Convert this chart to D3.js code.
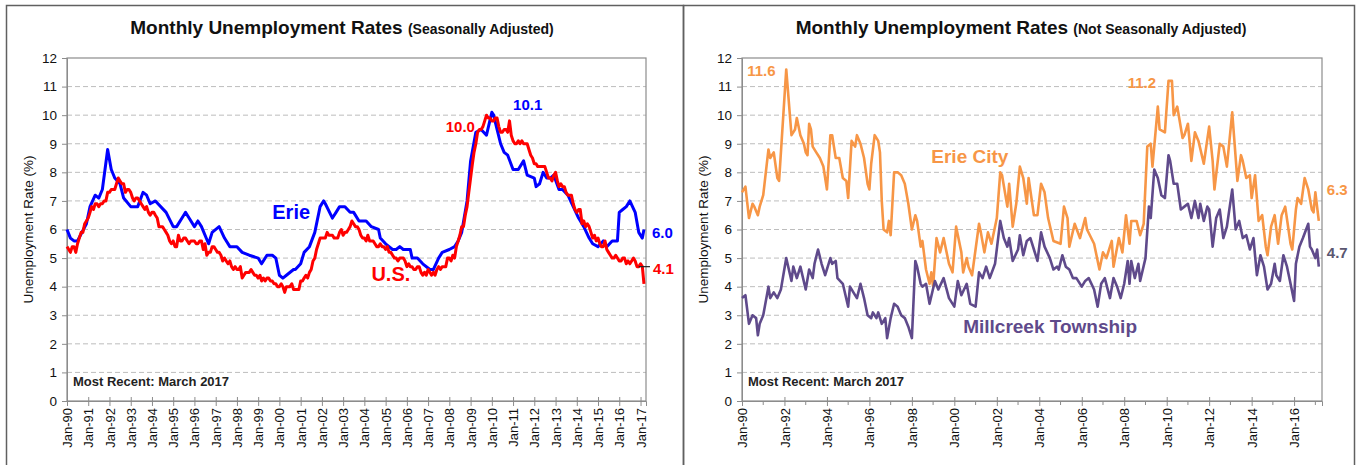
<!DOCTYPE html>
<html>
<head>
<meta charset="utf-8">
<script src="https://cdn.jsdelivr.net/npm/d3@7"></script>
<style>
    body { margin: 0; background: #fff; }
    text { font-family: "Liberation Sans", Arial, sans-serif; }
</style>
</head>
<body>
<svg id="chart" width="1359" height="465"></svg>
<script>

// U.S. rate, seasonally adjusted, one row per year (Jan..Dec), 2017 ends in March
var usRates = [
    [5.4,5.3,5.2,5.4,5.4,5.2,5.5,5.7,5.9,5.9,6.2,6.3],
    [6.4,6.6,6.8,6.7,6.9,6.9,6.8,6.9,6.9,7.0,7.0,7.3],
    [7.3,7.4,7.4,7.4,7.6,7.8,7.7,7.6,7.6,7.3,7.4,7.4],
    [7.3,7.1,7.0,7.1,7.1,7.0,6.9,6.8,6.7,6.8,6.6,6.5],
    [6.6,6.6,6.5,6.4,6.1,6.1,6.1,6.0,5.9,5.8,5.6,5.5],
    [5.6,5.4,5.4,5.8,5.6,5.6,5.7,5.7,5.6,5.5,5.6,5.6],
    [5.6,5.5,5.5,5.6,5.6,5.3,5.5,5.1,5.2,5.2,5.4,5.4],
    [5.3,5.2,5.2,5.1,4.9,5.0,4.9,4.8,4.9,4.7,4.6,4.7],
    [4.6,4.6,4.7,4.3,4.4,4.5,4.5,4.5,4.6,4.5,4.4,4.4],
    [4.3,4.4,4.2,4.3,4.2,4.3,4.3,4.2,4.2,4.1,4.1,4.0],
    [4.0,4.1,4.0,3.8,4.0,4.0,4.0,4.1,3.9,3.9,3.9,3.9],
    [4.2,4.2,4.3,4.4,4.3,4.5,4.6,4.9,5.0,5.3,5.5,5.7],
    [5.7,5.7,5.7,5.9,5.8,5.8,5.8,5.7,5.7,5.7,5.9,6.0],
    [5.8,5.9,5.9,6.0,6.1,6.3,6.2,6.1,6.1,6.0,5.8,5.7],
    [5.7,5.6,5.8,5.6,5.6,5.6,5.5,5.4,5.4,5.5,5.4,5.4],
    [5.3,5.4,5.2,5.2,5.1,5.0,5.0,4.9,5.0,5.0,5.0,4.9],
    [4.7,4.8,4.7,4.7,4.6,4.6,4.7,4.7,4.5,4.4,4.5,4.4],
    [4.6,4.5,4.4,4.5,4.4,4.6,4.7,4.6,4.7,4.7,4.7,5.0],
    [5.0,4.9,5.1,5.0,5.4,5.6,5.8,6.1,6.1,6.5,6.8,7.3],
    [7.8,8.3,8.7,9.0,9.4,9.5,9.5,9.6,9.8,10.0,9.9,9.9],
    [9.8,9.8,9.9,9.9,9.6,9.4,9.4,9.5,9.5,9.4,9.8,9.3],
    [9.1,9.0,9.0,9.1,9.0,9.1,9.0,9.0,9.0,8.8,8.6,8.5],
    [8.3,8.3,8.2,8.2,8.2,8.2,8.2,8.0,7.8,7.8,7.7,7.9],
    [8.0,7.7,7.5,7.6,7.5,7.5,7.3,7.2,7.2,7.2,6.9,6.7],
    [6.6,6.7,6.7,6.2,6.3,6.1,6.2,6.1,5.9,5.7,5.8,5.6],
    [5.7,5.5,5.4,5.4,5.6,5.3,5.2,5.1,5.0,5.0,5.1,5.0],
    [4.9,4.9,5.0,5.0,4.8,4.9,4.8,4.9,5.0,4.9,4.7,4.7],
    [4.8,4.7,4.1]
];

// Erie metro, seasonally adjusted (month, rate)
var erieSA = [
    ["1990-01",6.0],["1990-03",5.7],["1990-05",5.6],["1990-07",5.6],["1990-12",6.2],
    ["1991-02",6.8],["1991-05",7.2],["1991-07",7.1],["1991-09",7.4],["1991-12",8.8],
    ["1992-02",8.1],["1992-04",7.8],["1992-07",7.6],["1992-09",7.1],["1993-01",6.8],
    ["1993-05",6.8],["1993-08",7.3],["1993-10",7.2],["1993-12",6.9],["1994-03",7.0],
    ["1994-09",6.6],["1995-01",6.1],["1995-03",6.1],["1995-07",6.5],["1995-08",6.6],
    ["1995-10",6.4],["1996-01",6.1],["1996-03",6.3],["1996-05",6.1],["1996-09",5.5],
    ["1996-11",5.9],["1997-03",6.1],["1997-06",5.7],["1997-09",5.4],["1998-01",5.4],
    ["1998-04",5.2],["1998-08",5.1],["1999-01",5.0],["1999-03",4.8],["1999-06",5.1],
    ["1999-09",5.1],["1999-11",5.0],["2000-01",4.4],["2000-03",4.3],["2000-05",4.4],
    ["2000-09",4.6],["2000-10",4.6],["2001-01",4.8],["2001-03",5.2],["2001-06",5.4],
    ["2001-09",5.9],["2001-12",6.8],["2002-02",7.0],["2002-03",6.9],["2002-07",6.4],
    ["2002-09",6.6],["2002-11",6.8],["2003-02",6.8],["2003-05",6.6],["2003-07",6.6],
    ["2003-10",6.3],["2004-02",6.3],["2004-05",6.1],["2004-09",6.0],["2004-10",5.7],
    ["2005-01",5.5],["2005-03",5.4],["2005-05",5.3],["2005-07",5.3],["2005-09",5.4],
    ["2005-11",5.3],["2006-03",5.3],["2006-04",5.0],["2006-07",5.0],["2006-10",4.8],
    ["2007-02",4.6],["2007-04",4.6],["2007-07",5.0],["2007-09",5.2],["2008-01",5.3],
    ["2008-04",5.4],["2008-06",5.6],["2008-08",5.9],["2008-11",7.0],["2009-01",8.4],
    ["2009-04",9.4],["2009-07",9.5],["2009-10",9.3],["2010-01",10.1],["2010-02",10.0],
    ["2010-04",9.5],["2010-06",9.0],["2010-08",8.7],["2010-10",8.6],["2011-01",8.1],
    ["2011-04",8.1],["2011-07",8.4],["2011-09",7.9],["2012-01",7.8],["2012-02",7.5],
    ["2012-04",7.6],["2012-06",8.0],["2012-08",7.8],["2012-10",7.8],["2012-12",7.9],
    ["2013-03",7.4],["2013-05",7.4],["2013-08",7.2],["2013-11",6.8],["2014-02",6.4],
    ["2014-05",6.1],["2014-08",5.7],["2014-10",5.5],["2015-01",5.4],["2015-04",5.6],
    ["2015-06",5.4],["2015-09",5.6],["2015-12",5.6],["2016-01",6.6],["2016-03",6.7],
    ["2016-05",6.8],["2016-07",7.0],["2016-10",6.6],["2016-12",5.9],["2017-02",5.7],
    ["2017-03",6.0]
];

// Erie City, not seasonally adjusted
var erieCity = [
    ["1990-01",7.3],["1990-03",7.5],["1990-05",6.4],["1990-07",6.9],["1990-08",6.8],
    ["1990-10",6.5],["1990-11",6.8],["1991-01",7.2],["1991-04",8.8],["1991-05",8.5],
    ["1991-07",8.7],["1991-09",7.8],["1991-10",7.7],["1992-02",11.6],["1992-05",9.3],
    ["1992-07",9.5],["1992-08",9.9],["1992-10",9.3],["1992-12",9.0],["1993-01",8.7],
    ["1993-02",8.6],["1993-03",9.7],["1993-04",9.5],["1993-05",8.9],["1993-07",8.7],
    ["1993-09",8.5],["1993-11",8.2],["1994-01",7.4],["1994-03",9.3],["1994-04",9.3],
    ["1994-05",8.9],["1994-06",8.5],["1994-08",8.5],["1994-10",7.8],["1994-12",7.7],
    ["1995-01",7.1],["1995-03",9.1],["1995-04",9.0],["1995-05",8.9],["1995-06",9.3],
    ["1995-08",9.0],["1995-10",8.5],["1995-12",7.6],["1996-01",7.4],["1996-02",8.3],
    ["1996-04",9.3],["1996-06",9.1],["1996-07",8.7],["1996-08",7.0],["1996-09",6.0],
    ["1996-11",5.9],["1996-12",6.3],["1997-01",5.8],["1997-03",8.0],["1997-05",8.0],
    ["1997-07",7.9],["1997-09",7.6],["1997-11",6.9],["1998-01",6.0],["1998-03",6.5],
    ["1998-04",6.3],["1998-06",5.4],["1998-07",5.6],["1998-09",4.6],["1998-11",4.1],
    ["1998-12",4.5],["1999-01",4.0],["1999-03",5.7],["1999-05",5.2],["1999-07",5.7],
    ["1999-10",4.8],["1999-12",4.5],["2000-02",6.1],["2000-05",5.2],["2000-06",4.5],
    ["2000-08",5.0],["2000-09",4.7],["2000-11",4.4],["2001-03",6.2],["2001-04",5.9],
    ["2001-06",5.2],["2001-08",5.9],["2001-10",5.5],["2002-01",6.4],["2002-03",8.0],
    ["2002-04",7.9],["2002-07",6.8],["2002-08",7.6],["2002-10",6.1],["2002-12",6.9],
    ["2003-02",8.2],["2003-04",7.8],["2003-06",6.9],["2003-07",7.8],["2003-10",6.5],
    ["2003-12",6.5],["2004-02",7.6],["2004-04",7.3],["2004-06",6.4],["2004-09",5.6],
    ["2005-01",5.5],["2005-03",6.8],["2005-05",6.4],["2005-06",5.4],["2005-09",6.2],
    ["2005-12",5.7],["2006-03",6.4],["2006-04",6.0],["2006-08",5.5],["2006-11",4.6],
    ["2007-01",5.2],["2007-03",5.0],["2007-06",5.6],["2007-07",4.7],["2007-10",5.7],
    ["2007-12",5.2],["2008-02",6.5],["2008-04",5.5],["2008-05",6.3],["2008-08",6.3],
    ["2008-10",5.8],["2008-12",6.2],["2009-02",8.9],["2009-04",9.0],["2009-05",8.2],
    ["2009-08",10.3],["2009-09",9.5],["2009-12",9.4],["2010-02",11.2],["2010-04",11.2],
    ["2010-05",10.0],["2010-07",10.3],["2010-10",9.2],["2010-11",9.3],["2011-01",9.7],
    ["2011-03",8.4],["2011-05",9.4],["2011-07",9.1],["2011-10",8.3],["2012-01",9.6],
    ["2012-03",8.4],["2012-04",7.4],["2012-07",9.0],["2012-09",8.9],["2012-11",8.2],
    ["2013-02",10.1],["2013-05",7.7],["2013-07",8.6],["2013-08",8.4],["2013-10",7.8],
    ["2013-12",7.9],["2014-01",7.1],["2014-03",7.9],["2014-05",6.3],["2014-07",6.5],
    ["2014-09",5.4],["2014-10",5.1],["2014-12",6.1],["2015-02",6.5],["2015-04",5.5],
    ["2015-06",6.5],["2015-08",6.8],["2015-11",5.5],["2015-12",5.3],["2016-02",6.7],
    ["2016-03",7.1],["2016-05",6.9],["2016-07",7.8],["2016-09",7.4],["2016-11",6.7],
    ["2016-12",6.6],["2017-01",7.3],["2017-03",6.3]
];

// Millcreek Township, not seasonally adjusted
var millcreek = [
    ["1990-01",3.6],["1990-03",3.7],["1990-05",2.7],["1990-07",3.0],["1990-09",2.9],
    ["1990-10",2.3],["1990-11",2.7],["1991-01",3.0],["1991-04",4.0],["1991-05",3.6],
    ["1991-07",3.8],["1991-09",3.6],["1991-11",3.9],["1992-02",5.0],["1992-05",4.2],
    ["1992-06",4.7],["1992-08",4.3],["1992-10",4.7],["1993-01",3.9],["1993-03",4.6],
    ["1993-05",4.3],["1993-06",4.8],["1993-08",5.3],["1993-10",4.8],["1993-12",4.4],
    ["1994-03",5.0],["1994-04",4.8],["1994-06",4.9],["1994-07",4.3],["1994-10",4.1],
    ["1995-01",3.3],["1995-02",4.0],["1995-04",3.8],["1995-06",3.6],["1995-08",4.1],
    ["1995-10",3.6],["1995-12",3.0],["1996-02",2.9],["1996-03",3.1],["1996-05",2.9],
    ["1996-06",3.1],["1996-08",2.7],["1996-10",2.9],["1996-11",2.2],["1997-01",2.9],
    ["1997-03",3.4],["1997-05",3.3],["1997-07",3.0],["1997-09",2.9],["1997-11",2.6],
    ["1998-01",2.2],["1998-03",4.9],["1998-04",4.7],["1998-06",4.1],["1998-07",4.0],
    ["1998-09",4.1],["1998-11",3.4],["1999-02",4.2],["1999-04",3.9],["1999-07",4.3],
    ["1999-10",3.6],["2000-01",3.3],["2000-03",4.2],["2000-05",3.7],["2000-08",4.1],
    ["2000-10",3.4],["2001-01",3.3],["2001-03",4.5],["2001-05",4.3],["2001-07",4.7],
    ["2001-09",4.3],["2001-12",4.8],["2002-03",6.3],["2002-05",5.7],["2002-07",5.4],
    ["2002-08",5.7],["2002-10",4.9],["2003-01",5.3],["2003-02",5.8],["2003-04",5.1],
    ["2003-06",5.6],["2003-08",5.7],["2003-10",5.3],["2003-12",4.9],["2004-02",5.9],
    ["2004-04",5.4],["2004-07",5.0],["2004-09",4.6],["2004-11",4.7],["2004-12",4.6],
    ["2005-02",5.1],["2005-04",4.7],["2005-06",4.6],["2005-08",4.3],["2005-10",4.3],
    ["2006-01",4.0],["2006-03",4.2],["2006-05",4.3],["2006-08",3.9],["2006-10",3.3],
    ["2006-12",4.1],["2007-02",4.3],["2007-05",3.6],["2007-07",4.3],["2007-09",4.0],
    ["2007-11",3.6],["2008-01",4.1],["2008-03",4.9],["2008-04",4.1],["2008-05",4.9],
    ["2008-07",4.3],["2008-09",4.8],["2008-10",4.2],["2009-01",5.0],["2009-03",6.8],
    ["2009-04",6.4],["2009-06",8.1],["2009-08",7.8],["2009-10",7.2],["2009-12",7.1],
    ["2010-02",8.6],["2010-03",8.4],["2010-05",7.6],["2010-07",7.6],["2010-09",6.7],
    ["2010-11",6.8],["2011-01",6.9],["2011-03",6.4],["2011-05",7.0],["2011-07",6.4],
    ["2011-08",6.9],["2011-10",6.3],["2011-12",6.8],["2012-01",6.7],["2012-03",5.4],
    ["2012-05",6.4],["2012-07",6.7],["2012-09",5.7],["2012-11",6.1],["2013-02",7.4],
    ["2013-04",6.0],["2013-06",6.3],["2013-08",5.7],["2013-10",5.8],["2013-12",5.3],
    ["2014-02",5.7],["2014-04",4.4],["2014-06",5.1],["2014-08",4.7],["2014-10",3.9],
    ["2014-12",4.1],["2015-02",4.8],["2015-03",4.4],["2015-05",4.2],["2015-07",5.1],
    ["2015-09",4.7],["2015-11",4.1],["2016-01",3.5],["2016-02",4.8],["2016-04",5.4],
    ["2016-06",5.7],["2016-09",6.2],["2016-10",5.4],["2016-11",5.3],["2017-01",5.0],
    ["2017-02",5.3],["2017-03",4.7]
];

var yTicks = [0,1,2,3,4,5,6,7,8,9,10,11,12];

var parseMonth = d3.timeParse("%Y-%m");
var tickFormat = d3.timeFormat("%b-%y");
var startDate = new Date(1990, 0, 1);

var svg = d3.select("#chart");

// panel frames
svg.append("rect").attr("x", 6.5).attr("y", 5.5).attr("width", 677).attr("height", 480)
    .attr("fill", "none").attr("stroke", "#606060").attr("stroke-width", 1.5);
svg.append("rect").attr("x", 683.5).attr("y", 5.5).attr("width", 671).attr("height", 480)
    .attr("fill", "none").attr("stroke", "#606060").attr("stroke-width", 1.5);

function toSeries(pairs) {
    return pairs.map(function(p) { return { date: parseMonth(p[0]), value: p[1] }; });
}

var usSeries = [];
usRates.forEach(function(row, yi) {
    row.forEach(function(v, mi) {
        usSeries.push({ date: new Date(1990 + yi, mi, 1), value: v });
    });
});

function drawPanel(p) {
    var x = d3.scaleTime().domain([startDate, p.end]).range([p.left, p.right]);
    var y = d3.scaleLinear().domain([0, 12]).range([p.bottom, p.top]);
    var g = svg.append("g");

    // title
    var title = g.append("text")
        .attr("x", p.titleX).attr("y", 34)
        .attr("text-anchor", "middle").attr("font-weight", "bold").attr("fill", "#111");
    title.append("tspan").attr("font-size", 19).text("Monthly Unemployment Rates ");
    title.append("tspan").attr("font-size", 14).text(p.subtitle);

    // gridlines
    g.selectAll(".grid").data(yTicks.filter(function(d) { return d > 0 && d < 12; }))
        .enter().append("line")
        .attr("x1", p.left).attr("x2", p.right)
        .attr("y1", d => y(d)).attr("y2", d => y(d))
        .attr("stroke", "#bdbdbd").attr("stroke-dasharray", "5,3");

    // plot frame
    g.append("rect").attr("x", p.left).attr("y", p.top)
        .attr("width", p.right - p.left).attr("height", p.bottom - p.top)
        .attr("fill", "none").attr("stroke", "#8c8c8c").attr("stroke-width", 1.2);

    // y axis
    var yAxis = g.append("g").attr("transform", `translate(${p.left},0)`)
        .call(d3.axisLeft(y).tickValues(yTicks).tickSize(5).tickPadding(5));
    yAxis.select(".domain").attr("stroke", "#8c8c8c");
    yAxis.selectAll(".tick line").attr("stroke", "#8c8c8c");
    yAxis.selectAll("text").attr("font-size", 13.5).attr("fill", "#111")
        .style("font-family", '"Liberation Sans", Arial, sans-serif');

    g.append("text")
        .attr("transform", `translate(${p.left - 34},${(p.top + p.bottom) / 2}) rotate(-90)`)
        .attr("text-anchor", "middle").attr("font-size", 13.5).attr("fill", "#111")
        .text("Unemployment Rate (%)");

    // x axis: a tick every January, labels every p.every years
    var years = d3.timeYear.range(startDate, p.end);
    var labelled = years.filter(function(d, i) { return i % p.every === 0; });
    var xAxis = g.append("g").attr("transform", `translate(0,${p.bottom})`)
        .call(d3.axisBottom(x).tickValues(labelled).tickFormat(tickFormat).tickSize(5).tickPadding(4));
    xAxis.select(".domain").attr("stroke", "#8c8c8c");
    xAxis.selectAll(".tick line").attr("y1", -4).attr("stroke", "#8c8c8c");
    xAxis.selectAll("text")
        .attr("transform", "rotate(-90)")
        .attr("text-anchor", "end").attr("x", -7).attr("y", 0).attr("dy", "0.35em")
        .attr("font-size", 13).attr("fill", "#111")
        .style("font-family", '"Liberation Sans", Arial, sans-serif');
    g.selectAll(".minor").data(years.filter(function(d, i) { return i % p.every !== 0; }))
        .enter().append("line")
        .attr("x1", d => x(d)).attr("x2", d => x(d))
        .attr("y1", p.bottom).attr("y2", p.bottom + 4)
        .attr("stroke", "#8c8c8c");

    g.append("text").attr("x", p.left + 6).attr("y", p.bottom - 15)
        .attr("font-size", 13).attr("font-weight", "bold").attr("fill", "#222")
        .text("Most Recent: March 2017");

    var line = d3.line().x(d => x(d.date)).y(d => y(d.value));
    p.series.forEach(function(s) {
        g.append("path").datum(s.data)
            .attr("d", line)
            .attr("fill", "none").attr("stroke", s.color).attr("stroke-width", s.width)
            .attr("stroke-linejoin", "round");
    });

    p.labels.forEach(function(l) {
        g.append("text")
            .attr("x", x(parseMonth(l.at)) + (l.dx || 0)).attr("y", y(l.v))
            .attr("dy", "0.35em")
            .attr("font-size", l.size).attr("font-weight", "bold").attr("fill", l.color)
            .text(l.text);
    });

    return { x: x, y: y, g: g };
}

var left = drawPanel({
    left: 67, right: 646, top: 58, bottom: 401, titleX: 342,
    end: new Date(2017, 3, 5), every: 1,
    subtitle: "(Seasonally Adjusted)",
    series: [
        { data: toSeries(erieSA), color: "#0000ff", width: 3 },
        { data: usSeries, color: "#ff0000", width: 3 }
    ],
    labels: [
        { text: "10.1", at: "2011-01", v: 10.35, color: "#0000ff", size: 15 },
        { text: "10.0", at: "2007-11", v: 9.6, color: "#ff0000", size: 15 },
        { text: "6.0", at: "2017-03", dx: 8, v: 5.9, color: "#0000ff", size: 15 },
        { text: "4.1", at: "2017-03", dx: 9, v: 4.63, color: "#ff0000", size: 15 },
        { text: "Erie", at: "1999-09", v: 6.6, color: "#0000ff", size: 20 },
        { text: "U.S.", at: "2004-05", v: 4.45, color: "#ff0000", size: 20 }
    ]
});

// small leader mark next to the U.S. end value
left.g.append("line")
    .attr("x1", left.x(parseMonth("2016-12"))).attr("x2", left.x(parseMonth("2017-03")) + 6)
    .attr("y1", left.y(4.7)).attr("y2", left.y(4.7))
    .attr("stroke", "#222").attr("stroke-width", 1.2);

drawPanel({
    left: 742, right: 1322, top: 58, bottom: 401, titleX: 1021,
    end: new Date(2017, 3, 25), every: 2,
    subtitle: "(Not Seasonally Adjusted)",
    series: [
        { data: toSeries(erieCity), color: "#f79646", width: 2.6 },
        { data: toSeries(millcreek), color: "#5f4a8b", width: 2.6 }
    ],
    labels: [
        { text: "11.6", at: "1990-04", v: 11.55, color: "#f79646", size: 15 },
        { text: "11.2", at: "2008-03", v: 11.15, color: "#f79646", size: 15 },
        { text: "6.3", at: "2017-03", dx: 8, v: 7.4, color: "#f79646", size: 15 },
        { text: "4.7", at: "2017-03", dx: 8, v: 5.2, color: "#5a5670", size: 15 },
        { text: "Erie City", at: "1998-12", v: 8.55, color: "#f79646", size: 19 },
        { text: "Millcreek Township", at: "2000-06", v: 2.6, color: "#5f4a8b", size: 19 }
    ]
});

</script>
</body>
</html>
